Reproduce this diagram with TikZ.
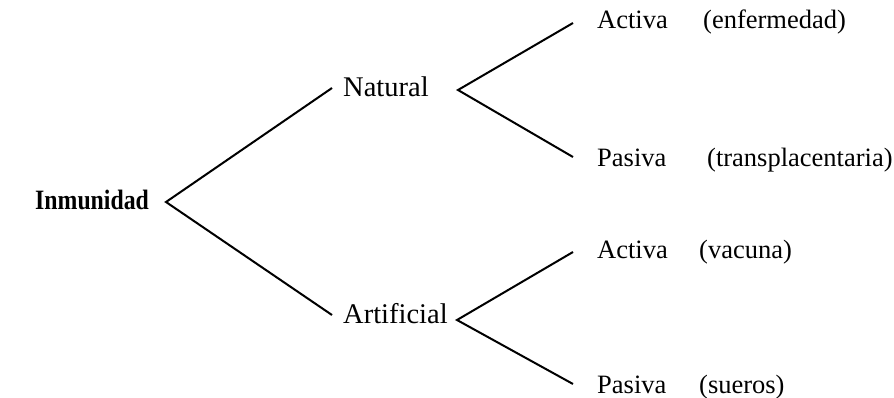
\documentclass[tikz,border=0pt]{standalone}
\usepackage{fontspec}
\setmainfont{Liberation Serif}
\begin{document}
\begin{tikzpicture}[x=1pt,y=-1pt,
  branch/.style={line width=2pt,line join=miter},
  root/.style={anchor=base west,inner sep=0pt,font=\fontsize{28}{32}\selectfont\bfseries},
  mid/.style={anchor=base west,inner sep=0pt,font=\fontsize{28.5}{32}\selectfont},
  leaf/.style={anchor=base west,inner sep=0pt,font=\fontsize{26.5}{30}\selectfont},
  note/.style={anchor=base west,inner sep=0pt,font=\fontsize{26.5}{30}\selectfont}]
\useasboundingbox (0,0) rectangle (894,397);

% labels
\node[root] (inm) at (35,209) {\scalebox{0.85}[1]{Inmunidad}};
\node[mid] (nat) at (343,96) {Natural};
\node[mid] (art) at (343,323) {Artificial};
\node[leaf] (na) at (597,28) {Activa};
\node[note] (nae) at (703,28) {(enfermedad)};
\node[leaf] (np) at (597,166) {Pasiva};
\node[note] (npt) at (707,166) {(transplacentaria)};
\node[leaf] (aa) at (597,258) {Activa};
\node[note] (aav) at (699,258) {(vacuna)};
\node[leaf] (ap) at (597,393) {Pasiva};
\node[note] (aps) at (699,393) {(sueros)};

% branch points
\coordinate (v0) at (166,202);
\coordinate (v0a) at (332,88);
\coordinate (v0b) at (332,315);
\coordinate (v1) at (458,90);
\coordinate (v1a) at (573,23);
\coordinate (v1b) at (573,157);
\coordinate (v2) at (457,320);
\coordinate (v2a) at (573,252);
\coordinate (v2b) at (573,384);

\draw[branch] (v0a) -- (v0) -- (v0b);
\draw[branch] (v1a) -- (v1) -- (v1b);
\draw[branch] (v2a) -- (v2) -- (v2b);
\end{tikzpicture}
\end{document}
